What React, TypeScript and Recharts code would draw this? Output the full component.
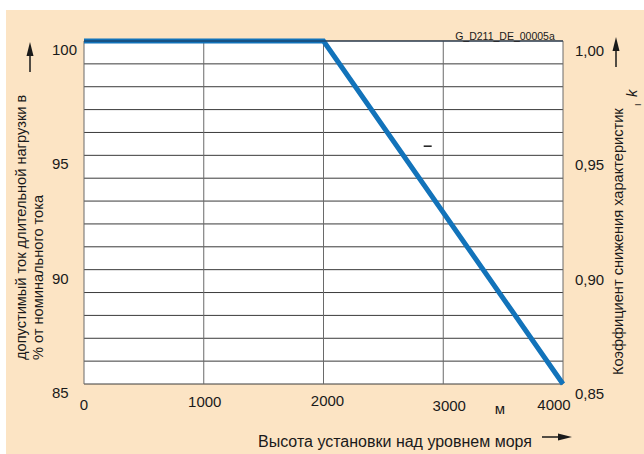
import React from 'react';
import {
  LineChart,
  Line,
  XAxis,
  YAxis,
  CartesianGrid,
  ReferenceLine,
  ReferenceDot,
} from 'recharts';

// altitude above sea level (m), permissible continuous current (% of rated)
// and the matching derating factor on the right-hand scale
const altitude = [0, 2000, 4000];
const currentPct = [100, 100, 85];
const deratingFactor = [1.0, 1.0, 0.85];

const xTicks = [0, 1000, 2000, 3000, 4000];
const leftTicks = [85, 86, 87, 88, 89, 90, 91, 92, 93, 94, 95, 96, 97, 98, 99, 100];
const leftLabels = [85, 90, 95, 100];
const rightTicks = [0.85, 0.9, 0.95, 1.0];

// small stray dash in the original drawing
const dashMark = { alt: 2870, value: 95.4 };

const data = altitude.map((a, i) => ({ alt: a, value: currentPct[i], factor: deratingFactor[i] }));

const FONT = '"Liberation Sans", Arial, sans-serif';
const INK = '#1a1a1a';
const BLUE = '#1273ba';
const BEIGE = '#fce4c4';

// per-tick nudges so the labels sit where the drawing puts them
const xNudge: Record<number, [number, number]> = {
  0: [0, 2],
  1000: [1, -1],
  2000: [4, -2],
  3000: [6, 3],
  4000: [-9, 2],
};

const XTick = ({ x, payload }: any) => {
  const [dx, dy] = xNudge[payload.value] || [0, 0];
  return (
    <text x={x + dx} y={408 + dy} textAnchor="middle" fontSize={15} fontFamily={FONT} fill={INK}>
      {payload.value}
    </text>
  );
};

const LeftTick = ({ y, payload }: any) => {
  if (!leftLabels.includes(payload.value)) return null;
  return (
    <text x={52} y={y + 14} textAnchor="start" fontSize={15} fontFamily={FONT} fill={INK}>
      {payload.value}
    </text>
  );
};

const RightTick = ({ y, payload }: any) => (
  <text x={575} y={y + 15} textAnchor="start" fontSize={15} fontFamily={FONT} fill={INK}>
    {Number(payload.value).toFixed(2).replace('.', ',')}
  </text>
);

const DashShape = ({ cx, cy }: any) => (
  <line x1={cx - 4} y1={cy} x2={cx + 4} y2={cy} stroke={INK} strokeWidth={1.5} />
);

export default function App() {
  return (
    <div style={{ position: 'absolute', left: 0, top: 0, width: 644, height: 454, background: '#fff' }}>
      <div style={{ position: 'absolute', left: 6, top: 10, width: 638, height: 444, background: BEIGE }} />
      <div style={{ position: 'absolute', left: 0, top: 0 }}>
        <LineChart width={644} height={454} data={data} margin={{ top: 41, right: 21, bottom: 40, left: 52 }}>
          <CartesianGrid
            xAxisId="x"
            yAxisId="left"
            vertical={false}
            stroke="#3a3a3a"
            fill="#fff"
            fillOpacity={1}
          />
          <CartesianGrid xAxisId="x" yAxisId="left" horizontal={false} stroke="#6a6a6a" />
          <XAxis
            xAxisId="x"
            dataKey="alt"
            type="number"
            domain={[0, 4000]}
            ticks={xTicks}
            height={30}
            axisLine={false}
            tickLine={false}
            tick={<XTick />}
            interval={0}
          />
          <YAxis
            yAxisId="left"
            type="number"
            domain={[85, 100]}
            ticks={leftTicks}
            width={32}
            axisLine={false}
            tickLine={false}
            tick={<LeftTick />}
            interval={0}
          />
          <YAxis
            yAxisId="right"
            orientation="right"
            type="number"
            domain={[0.85, 1.0]}
            ticks={rightTicks}
            width={60}
            axisLine={false}
            tickLine={false}
            tick={<RightTick />}
            interval={0}
          />
          <Line
            xAxisId="x"
            yAxisId="right"
            type="linear"
            dataKey="factor"
            stroke="none"
            strokeWidth={0}
            dot={false}
            activeDot={false}
            isAnimationActive={false}
          />
          <Line
            xAxisId="x"
            yAxisId="left"
            type="linear"
            dataKey="value"
            stroke={BLUE}
            strokeWidth={5}
            dot={false}
            activeDot={false}
            isAnimationActive={false}
          />
          <ReferenceLine xAxisId="x" yAxisId="left" y={100} stroke="#1d3550" strokeWidth={1.2} />
          <ReferenceDot
            xAxisId="x"
            yAxisId="left"
            x={dashMark.alt}
            y={dashMark.value}
            shape={<DashShape />}
          />
        </LineChart>
      </div>
      <svg
        width={644}
        height={454}
        style={{ position: 'absolute', left: 0, top: 0, pointerEvents: 'none' }}
        fontFamily={FONT}
        fill={INK}
      >
        <text x={505} y={40} fontSize={10.5} textAnchor="middle">G_D211_DE_00005a</text>
        <text x={500} y={414} fontSize={15} textAnchor="middle">м</text>

        {/* left axis title + arrow */}
        <text transform="translate(26,360) rotate(-90)" fontSize={14.6} textAnchor="start">
          допустимый ток длительной нагрузки в
        </text>
        <text transform="translate(43,360) rotate(-90)" fontSize={14.6} textAnchor="start">
          % от номинального тока
        </text>
        <line x1={30} y1={72} x2={30} y2={52} stroke={INK} strokeWidth={1.5} />
        <polygon points="30,42 26.5,56 33.5,56" fill={INK} />

        {/* right axis title + arrow */}
        <text transform="translate(623,375) rotate(-90)" fontSize={14.6} textAnchor="start">
          Коэффициент снижения характеристик
        </text>
        <text transform="translate(637,97) rotate(-90)" fontSize={14.6} fontStyle="italic" textAnchor="start">
          k
        </text>
        <text transform="translate(641,106) rotate(-90)" fontSize={9} textAnchor="start">
          I
        </text>
        <line x1={616} y1={67} x2={616} y2={47} stroke={INK} strokeWidth={1.5} />
        <polygon points="616,37 612.5,51 619.5,51" fill={INK} />

        {/* bottom axis title + arrow */}
        <text x={258} y={447} fontSize={16} textAnchor="start">
          Высота установки над уровнем моря
        </text>
        <line x1={542} y1={437} x2={560} y2={437} stroke={INK} strokeWidth={1.5} />
        <polygon points="572,437 558,433.5 558,440.5" fill={INK} />
      </svg>
    </div>
  );
}
